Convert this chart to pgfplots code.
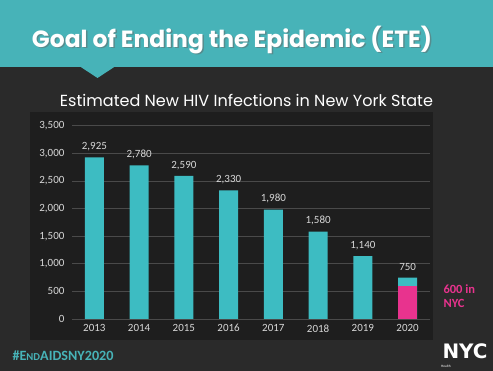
\documentclass[border=0pt]{standalone}
\usepackage{pgfplots}
\pgfplotsset{compat=1.18}
\usepackage{fontspec}
\usepackage{graphicx}
\setmainfont{Carlito}
\newfontfamily\poppins{Poppins}
\newfontfamily\dejavu{DejaVu Sans}
\definecolor{bg}{HTML}{2A2A2A}
\definecolor{panel}{HTML}{1E1E1E}
\definecolor{head}{HTML}{47B3B8}
\definecolor{bar}{HTML}{3DBCC2}
\definecolor{mag}{HTML}{E8338E}
\definecolor{lbl}{HTML}{D8D8D8}
\definecolor{gridc}{HTML}{4A4A4A}
\pgfplotstableread{
x y
0 2925
1 2780
2 2590
3 2330
4 1980
5 1580
6 1140
7 750
}\nys
\pgfplotstableread{
x y
7 600
}\nyc
\begin{document}
\begin{tikzpicture}[x=1pt,y=1pt]
\fill[bg] (0,0) rectangle (493,371);
\fill[head] (0,371) rectangle (493,304);
\fill[head] (80,304.5) -- (115,304.5) -- (97.5,293) -- cycle;
\fill[panel] (30,259) rectangle (433,31);
\node[text=black!60, opacity=0.5] at (233.5,329.5) {\resizebox{400pt}{!}{\poppins\bfseries Goal of Ending the Epidemic (ETE)}};
\node[text=white] at (232,331) {\resizebox{400pt}{!}{\poppins\bfseries Goal of Ending the Epidemic (ETE)}};
\node[text=white] at (246.5,271) {\resizebox{373pt}{!}{\poppins Estimated New HIV Infections in New York State}};
\begin{axis}[
  at={(72pt,52pt)}, anchor=south west, scale only axis,
  width=358pt, height=193.3pt,
  xmin=-0.5, xmax=7.5, ymin=0, ymax=3500,
  axis line style={draw=none},
  major tick length=0pt,
  ytick={0,500,...,3500},
  ymajorgrids, grid style={gridc, line width=0.8pt},
  xtick={0,...,7},
  xticklabels={2013,2014,2015,2016,2017,2018,2019,2020},
  tick label style={text=lbl, font=\fontsize{11}{13}\selectfont},
  yticklabel style={xshift=-4pt},
  xticklabel style={yshift=-2pt},
  /pgf/number format/.cd, 1000 sep={,}, assume math mode=true,
]
\addplot[ybar, bar width=19pt, bar shift=0pt, fill=bar, draw=none,
  nodes near coords,
  every node near coord/.append style={text=lbl, font=\fontsize{11}{13}\selectfont, yshift=3pt, /pgf/number format/1000 sep={,}, /pgf/number format/assume math mode=true}]
  table[x=x,y=y] {\nys};
\addplot[ybar, bar width=19pt, bar shift=0pt, fill=mag, draw=none]
  table[x=x,y=y] {\nyc};
\end{axis}
\node[anchor=west, text=mag, font=\bfseries\fontsize{12.5}{13.5}\selectfont, align=left] at (440,75) {600 in\\NYC};
\node[anchor=west, text=head] at (9,15) {\resizebox{101pt}{!}{\bfseries \#E{\fontsize{7.5}{8}\selectfont ND}AIDSNY2020}};
\node[anchor=west, text=white] at (439,19.5) {\resizebox{45pt}{!}{\dejavu\bfseries NYC}};
\node[anchor=west, text=white, font=\fontsize{3.5}{4}\selectfont, inner sep=1pt] at (440,4.5) {Health};
\end{tikzpicture}
\end{document}
